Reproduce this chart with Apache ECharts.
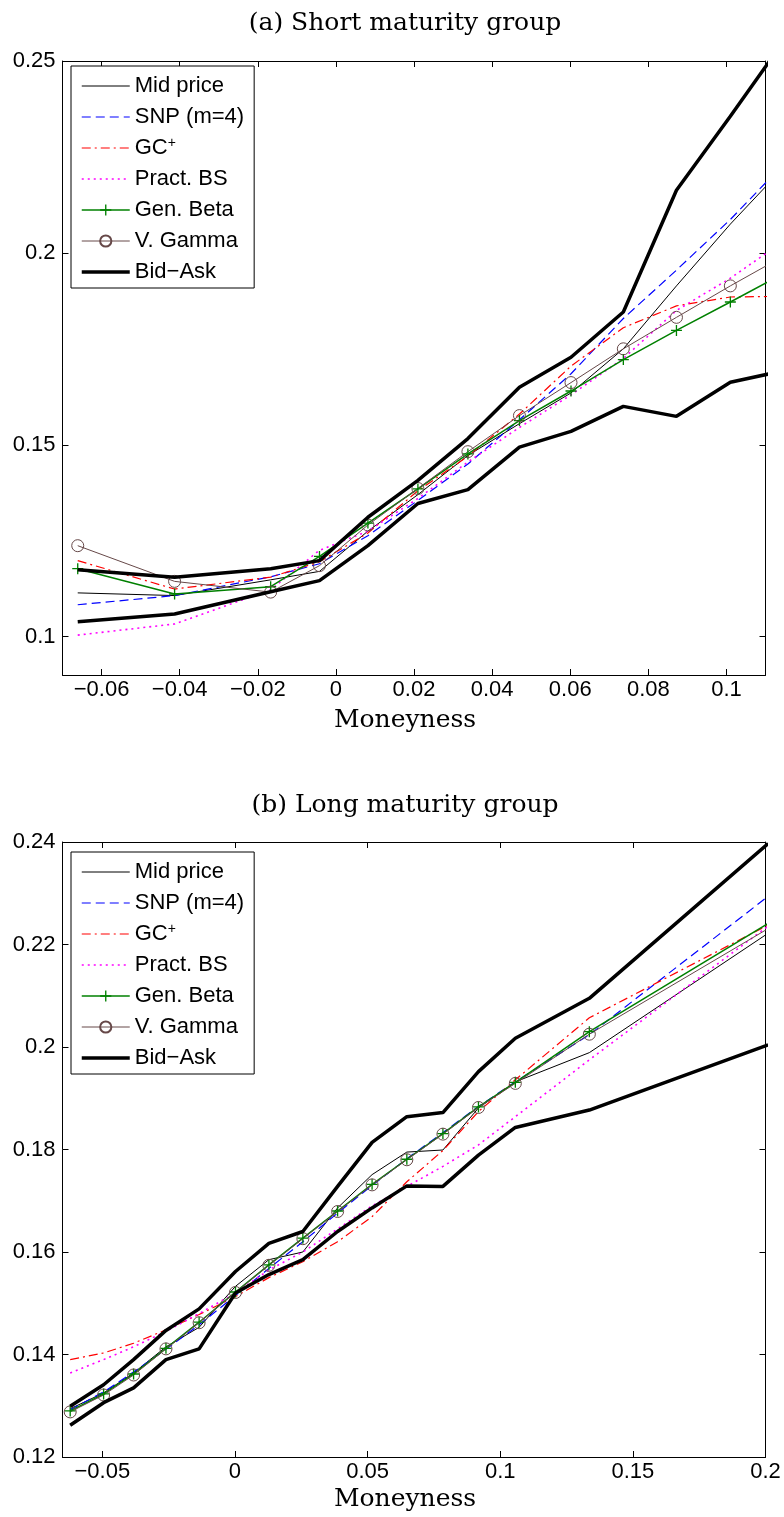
<!DOCTYPE html>
<html>
<head>
<meta charset="utf-8">
<title>Implied volatility by moneyness</title>
<script src="https://cdn.jsdelivr.net/npm/echarts@6/dist/echarts.min.js"></script>
<style>
  html, body { margin: 0; padding: 0; background: #fff; }
  #chart { width: 784px; height: 1517px; }
</style>
</head>
<body>
<div id="chart"></div>
<script>
// (a) short maturity group
const shortX = [-0.0661, -0.0413, -0.0167, -0.0042, 0.0082, 0.0210, 0.0338, 0.0470, 0.0602, 0.0736, 0.0872, 0.1010, 0.1147]
const shortMid = [0.1114, 0.1107, 0.1148, 0.1170, 0.1275, 0.1370, 0.1472, 0.1555, 0.1635, 0.1750, 0.1914, 0.2075, 0.2223]
const shortSnp = [0.1083, 0.1107, 0.1156, 0.1190, 0.1263, 0.1355, 0.1450, 0.1565, 0.1685, 0.1829, 0.1955, 0.2087, 0.2232]
const shortGc = [0.1198, 0.1124, 0.1155, 0.1195, 0.1270, 0.1380, 0.1470, 0.1580, 0.1705, 0.1805, 0.1862, 0.1885, 0.1887]
const shortPract = [0.1004, 0.1033, 0.1122, 0.1225, 0.1275, 0.1360, 0.1455, 0.1545, 0.1630, 0.1725, 0.1850, 0.1934, 0.2031]
const shortGenBeta = [0.1177, 0.1111, 0.1130, 0.1209, 0.1296, 0.1385, 0.1476, 0.1563, 0.1640, 0.1722, 0.1798, 0.1872, 0.1947]
const shortVGamma = [0.1237, 0.1144, 0.1116, 0.1185, 0.1291, 0.1386, 0.1482, 0.1576, 0.1662, 0.1750, 0.1832, 0.1914, 0.1992]
const shortAsk = [0.1174, 0.1155, 0.1177, 0.1198, 0.1311, 0.1407, 0.1516, 0.1650, 0.1728, 0.1846, 0.2163, 0.2356, 0.2552]
const shortBid = [0.1039, 0.1059, 0.1117, 0.1146, 0.1237, 0.1347, 0.1383, 0.1494, 0.1535, 0.1600, 0.1574, 0.1663, 0.1693]

// (b) long maturity group
const longX = [-0.0621, -0.0495, -0.0382, -0.0260, -0.0135, 0.0002, 0.0128, 0.0256, 0.0387, 0.0517, 0.0648, 0.0784, 0.0918, 0.1057, 0.1336, 0.2010]
const longMid = [0.1294, 0.1325, 0.1364, 0.1415, 0.1453, 0.1533, 0.1585, 0.1600, 0.1686, 0.1751, 0.1795, 0.1799, 0.1881, 0.1932, 0.1989, 0.2222]
const longSnp = [0.1292, 0.1327, 0.1366, 0.1410, 0.1458, 0.1515, 0.1568, 0.1620, 0.1676, 0.1730, 0.1782, 0.1833, 0.1884, 0.1932, 0.2024, 0.2294]
const longGc = [0.1390, 0.1403, 0.1422, 0.1448, 0.1478, 0.1513, 0.1550, 0.1581, 0.1620, 0.1669, 0.1737, 0.1798, 0.1874, 0.1936, 0.2057, 0.2238]
const longPract = [0.1364, 0.1390, 0.1415, 0.1445, 0.1480, 0.1520, 0.1565, 0.1600, 0.1645, 0.1690, 0.1728, 0.1767, 0.1809, 0.1864, 0.1975, 0.2236]
const longGenBeta = [0.1290, 0.1323, 0.1362, 0.1412, 0.1463, 0.1522, 0.1575, 0.1627, 0.1680, 0.1732, 0.1781, 0.1831, 0.1883, 0.1931, 0.2030, 0.2241]
const longVGamma = [0.1288, 0.1321, 0.1360, 0.1411, 0.1462, 0.1521, 0.1574, 0.1626, 0.1679, 0.1731, 0.1780, 0.1830, 0.1882, 0.1929, 0.2025, 0.2231]
const longAsk = [0.1299, 0.1341, 0.1390, 0.1447, 0.1489, 0.1562, 0.1617, 0.1640, 0.1728, 0.1814, 0.1864, 0.1872, 0.1952, 0.2017, 0.2095, 0.2397]
const longBid = [0.1262, 0.1306, 0.1335, 0.1390, 0.1411, 0.1520, 0.1556, 0.1585, 0.1640, 0.1686, 0.1729, 0.1728, 0.1789, 0.1843, 0.1877, 0.2004]

// tick labels
const shortXTicks = [-0.06, -0.04, -0.02, 0, 0.02, 0.04, 0.06, 0.08, 0.1]
const shortYTicks = [0.1, 0.15, 0.2, 0.25]
const longXTicks = [-0.05, 0, 0.05, 0.1, 0.15, 0.2]
const longYTicks = [0.12, 0.14, 0.16, 0.18, 0.2, 0.22, 0.24]

const legendNames = ['Mid price', 'SNP (m=4)', 'GC+', 'Pract. BS', 'Gen. Beta', 'V. Gamma', 'Bid\u2212Ask']

const sansFont = 'Liberation Sans'
const serifFont = 'DejaVu Serif'
const plusSymbol = 'path://M4.4,0H5.6V4.4H10V5.6H5.6V10H4.4V5.6H0V4.4H4.4Z'
const vgColor = '#664848'

function pairs(xs, ys) {
  return xs.map((x, i) => [x, ys[i]])
}

// line look per method
const lineLooks = [
  { color: '#000', width: 1, type: 'solid' },
  { color: '#0000ff', width: 1.2, type: [9, 5] },
  { color: '#ff0000', width: 1.2, type: [9, 4, 2, 4] },
  { color: '#ff00ff', width: 1.6, type: [2, 4] },
  { color: '#008000', width: 1.5, type: 'solid' },
  { color: vgColor, width: 1, type: 'solid' },
  { color: '#000', width: 3.5, type: 'solid' }
]
const markLooks = [
  null, null, null, null,
  { symbol: plusSymbol, symbolSize: 11, itemStyle: { color: '#008000', borderWidth: 0 } },
  { symbol: 'circle', symbolSize: 12, itemStyle: { color: 'rgba(0,0,0,0)', borderColor: vgColor, borderWidth: 1 } },
  null
]

function line(k, grid, xs, ys) {
  const look = lineLooks[k]
  const s = {
    name: legendNames[k],
    type: 'line',
    xAxisIndex: grid * 2,
    yAxisIndex: grid * 2,
    data: pairs(xs, ys),
    color: look.color,
    lineStyle: { color: look.color, width: look.width, type: Array.isArray(look.type) ? look.type.slice() : look.type },
    symbol: 'none',
    clip: true,
    silent: true,
    z: k === 6 ? 3 : 2
  }
  if (markLooks[k]) {
    s.symbol = markLooks[k].symbol
    s.symbolSize = markLooks[k].symbolSize
    s.showSymbol = true
    s.itemStyle = Object.assign({}, markLooks[k].itemStyle)
  }
  return s
}

function panelSeries(grid, xs, d) {
  return [
    line(0, grid, xs, d.mid),
    line(1, grid, xs, d.snp),
    line(2, grid, xs, d.gc),
    line(3, grid, xs, d.pract),
    line(4, grid, xs, d.genBeta),
    line(5, grid, xs, d.vGamma),
    line(6, grid, xs, d.ask),
    line(6, grid, xs, d.bid)
  ]
}

const minusFmt = v => String(v).replace('-', '\u2212')

function xAxes(grid, min, max, ticks) {
  const base = {
    type: 'value', gridIndex: grid, min: min, max: max,
    axisLine: { show: true, onZero: false, lineStyle: { color: '#000', width: 1 } },
    axisTick: { show: true, inside: true, length: 6, customValues: ticks, lineStyle: { color: '#000' } },
    splitLine: { show: false }
  }
  return [
    Object.assign({}, base, {
      position: 'bottom',
      axisLabel: { customValues: ticks, formatter: minusFmt, margin: 4, color: '#000', fontSize: 22, fontFamily: sansFont }
    }),
    Object.assign({}, base, { position: 'top', axisLabel: { show: false } })
  ]
}

function yAxes(grid, min, max, ticks) {
  const base = {
    type: 'value', gridIndex: grid, min: min, max: max,
    axisLine: { show: true, onZero: false, lineStyle: { color: '#000', width: 1 } },
    axisTick: { show: true, inside: true, length: 6, customValues: ticks, lineStyle: { color: '#000' } },
    splitLine: { show: false }
  }
  return [
    Object.assign({}, base, {
      position: 'left',
      axisLabel: { customValues: ticks, margin: 7, color: '#000', fontSize: 22, fontFamily: sansFont }
    }),
    Object.assign({}, base, { position: 'right', axisLabel: { show: false } })
  ]
}

function legendBox(top) {
  return {
    orient: 'vertical',
    left: 71,
    top: top,
    padding: [8, 10, 4, 9],
    itemWidth: 48,
    itemHeight: 14,
    itemGap: 7,
    selectedMode: false,
    backgroundColor: '#fff',
    borderColor: '#000',
    borderWidth: 1,
    borderRadius: 0,
    lineStyle: { width: 'inherit' },
    data: legendNames.map((n, i) => markLooks[i] ? { name: n } : { name: n, itemStyle: { opacity: 0 } }),
    formatter: n => n === 'GC+' ? 'GC{sup|+}' : n,
    textStyle: {
      color: '#000', fontSize: 22, lineHeight: 24, fontFamily: sansFont,
      rich: { sup: { fontSize: 14, lineHeight: 14, verticalAlign: 'top', fontFamily: sansFont, color: '#000' } }
    },
    z: 10
  }
}

function serifText(text, x, y) {
  return {
    type: 'text', x: x, y: y, silent: true,
    style: { text: text, fill: '#000', font: '25px "' + serifFont + '"', textAlign: 'center', textVerticalAlign: 'middle' }
  }
}

const chart = echarts.init(document.getElementById('chart'))
chart.setOption({
  animation: false,
  backgroundColor: '#fff',
  grid: [
    { left: 62.5, top: 61, width: 703, height: 614 },
    { left: 62.5, top: 842, width: 703, height: 615 }
  ],
  xAxis: xAxes(0, -0.07, 0.11, shortXTicks).concat(xAxes(1, -0.065, 0.2, longXTicks)),
  yAxis: yAxes(0, 0.09, 0.25, shortYTicks).concat(yAxes(1, 0.12, 0.24, longYTicks)),
  legend: [legendBox(852), legendBox(66)],
  graphic: [
    serifText('(a) Short maturity group', 405, 23),
    serifText('Moneyness', 405, 720),
    serifText('(b) Long maturity group', 405, 805),
    serifText('Moneyness', 405, 1499)
  ],
  series: panelSeries(0, shortX, {
    mid: shortMid, snp: shortSnp, gc: shortGc, pract: shortPract,
    genBeta: shortGenBeta, vGamma: shortVGamma, ask: shortAsk, bid: shortBid
  }).concat(panelSeries(1, longX, {
    mid: longMid, snp: longSnp, gc: longGc, pract: longPract,
    genBeta: longGenBeta, vGamma: longVGamma, ask: longAsk, bid: longBid
  }))
})
</script>
</body>
</html>
